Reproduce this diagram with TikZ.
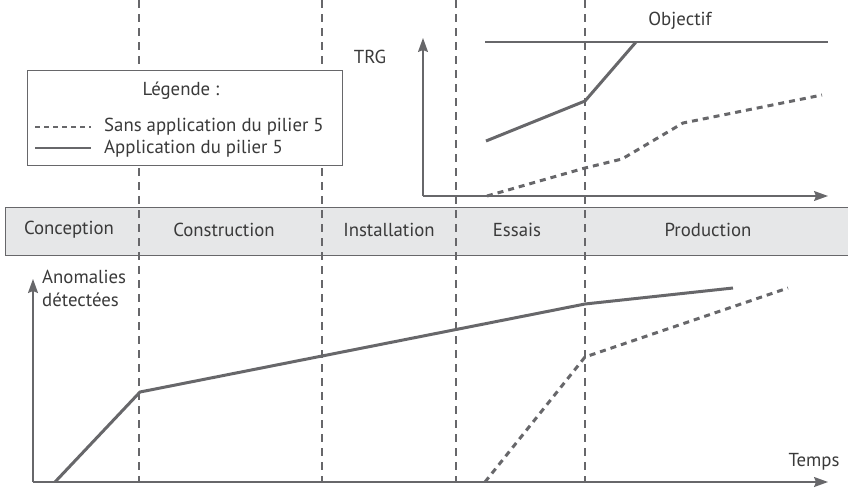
\documentclass[tikz,border=0pt]{standalone}
\usepackage{fontspec}
\setmainfont{PT Sans}
\usetikzlibrary{arrows.meta}
\definecolor{trait}{HTML}{67676A}
\definecolor{bande}{HTML}{E6E7E8}
\definecolor{texte}{HTML}{3A3A3A}
\tikzstyle{every node}=[font=\fontsize{18.8}{22}\selectfont, text=texte, inner sep=0pt]
\tikzstyle{phase} = [rectangle, draw=trait, fill=bande, line width=1.2pt]
\tikzstyle{jalon} = [draw=trait, line width=1.3pt, dash pattern=on 8pt off 6pt]
\tikzstyle{axe} = [draw=trait, line width=1.5pt, -{Stealth[length=14pt,width=10pt,inset=2pt]}]
\tikzstyle{avec} = [draw=trait, line width=3pt]
\tikzstyle{sans} = [draw=trait, line width=3pt, dash pattern=on 6pt off 5pt]

\begin{document}
\begin{tikzpicture}[x=1pt, y=-1pt]
\useasboundingbox (0,0) rectangle (848,488);
% bande des phases
\node (bande) [phase, minimum width=850pt, minimum height=48pt, anchor=north west] at (5,207) {};
\node (conception) at (69,230) {Conception};
\node (construction) at (224,230) {Construction};
\node (installation) at (389,230) {Installation};
\node (essais) at (517,230) {Essais};
\node (production) at (708,230) {Production};
% jalons
\foreach \x/\n in {139/a, 322/b, 456/c, 585/d} {
  \coordinate (h\n) at (\x,0);
  \coordinate (b\n) at (\x,481);
  \draw [jalon] (h\n) -- (b\n);
}
% legende
\node (legende) [draw=trait, fill=white, line width=1pt, minimum width=315pt, minimum height=95pt, anchor=north west] at (27,70) {};
\node (titre) at (181,91) {Légende :};
\coordinate (s1) at (35,127);
\coordinate (s2) at (91,127);
\coordinate (a1) at (35,148);
\coordinate (a2) at (91,148);
\draw [sans, line width=2pt, dash pattern=on 5pt off 4pt] (s1) -- (s2);
\draw [avec, line width=2pt] (a1) -- (a2);
\node (lsans) [anchor=west] at (104,127) {Sans application du pilier 5};
\node (lavec) [anchor=west] at (104,149) {Application du pilier 5};
% TRG
\coordinate (o1) at (423,196);
\coordinate (y1) at (423,38);
\coordinate (x1) at (828,196);
\draw [axe] (o1) -- (y1);
\draw [axe] (o1) -- (x1);
\node (trg) at (370,57) {TRG};
\coordinate (obj1) at (485,42);
\coordinate (obj2) at (828,42);
\draw [draw=trait, line width=1.5pt] (obj1) -- (obj2);
\node (objectif) at (680,21) {Objectif};
\coordinate (t1) at (486,141);
\coordinate (t2) at (585,101);
\coordinate (t3) at (636,42);
\draw [avec] (t1) -- (t2) -- (t3);
\coordinate (u1) at (487,196);
\coordinate (u2) at (585,168);
\coordinate (u3) at (622,159);
\coordinate (u4) at (683,123);
\coordinate (u5) at (822,95);
\draw [sans] (u1) -- (u2) -- (u3) -- (u4) -- (u5);
% anomalies
\coordinate (o2) at (33,482);
\coordinate (y2) at (33,279);
\coordinate (x2) at (828,482);
\draw [axe] (o2) -- (y2);
\draw [axe] (o2) -- (x2);
\node (anom) [anchor=west] at (42,277) {Anomalies};
\node (detect) [anchor=west] at (42,300) {détectées};
\node (temps) at (814,462) {Temps};
\coordinate (p1) at (55,482);
\coordinate (p2) at (140,392);
\coordinate (p3) at (585,304);
\coordinate (p4) at (733,288);
\draw [avec] (p1) -- (p2) -- (p3) -- (p4);
\coordinate (q1) at (485,482);
\coordinate (q2) at (585,357);
\coordinate (q3) at (788,288);
\draw [sans] (q1) -- (q2) -- (q3);
\end{tikzpicture}
\end{document}
